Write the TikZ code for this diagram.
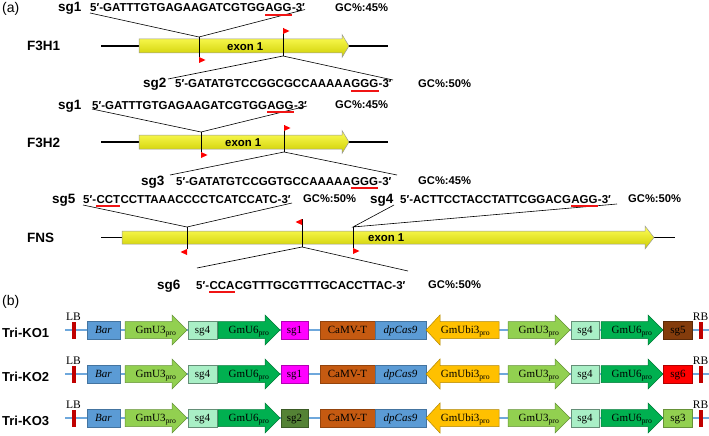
\documentclass[tikz,border=0pt]{standalone}
\usepackage{fontspec}
\setmainfont{Liberation Serif}
\setsansfont{Liberation Sans}
\usetikzlibrary{calc}
\definecolor{ulred}{RGB}{240,20,20}
\definecolor{barblue}{HTML}{5B9BD5}
\definecolor{lgreen}{HTML}{92D050}
\definecolor{mint}{HTML}{A9EFC6}
\definecolor{dgreen}{HTML}{00B050}
\definecolor{magent}{HTML}{FF00FF}
\definecolor{camv}{HTML}{C55A11}
\definecolor{ubi}{HTML}{FFC000}
\definecolor{sgfive}{HTML}{843C0C}
\definecolor{sgsix}{HTML}{FF0000}
\definecolor{sgtwo}{HTML}{548235}
\definecolor{lbred}{HTML}{C00000}
\definecolor{lineblue}{HTML}{6FA8DC}
\definecolor{exontop}{RGB}{255,255,90}
\definecolor{exonbot}{RGB}{205,205,0}
\tikzset{
  seqtxt/.style={font=\sffamily\bfseries\fontsize{11.5}{12}\selectfont, anchor=base west, inner sep=0pt},
  ulpath/.style={fill=ulred, draw=none},
  sglab/.style={font=\sffamily\bfseries\fontsize{13.5}{14}\selectfont, anchor=base west, inner sep=0pt},
  gctxt/.style={font=\sffamily\bfseries\fontsize{11.2}{12}\selectfont, anchor=base west, inner sep=0pt},
  genelab/.style={font=\sffamily\bfseries\fontsize{13.5}{14}\selectfont, anchor=base west, inner sep=0pt},
  exonlab/.style={font=\sffamily\bfseries\fontsize{11.4}{12}\selectfont, anchor=base west, inner sep=0pt},
  panel/.style={font=\sffamily\fontsize{14}{15}\selectfont, anchor=base west, inner sep=0pt},
  thinl/.style={line width=0.6pt},
  cutl/.style={line width=0.8pt},
  backbone/.style={line width=1.4pt},
  exon/.style={draw=black!40, line width=0.5pt, top color=exontop, middle color=yellow, bottom color=exonbot},
  bbline/.style={draw=lineblue, line width=1.6pt},
  gbox/.style={minimum height=18pt, inner sep=0pt, text height=7.5pt, text depth=0pt, font=\fontsize{11}{12}\selectfont, line width=0.6pt},
  atxt/.style={inner sep=0pt, text height=7.5pt, text depth=0pt, font=\fontsize{11}{12}\selectfont},
  lbtxt/.style={anchor=base, inner sep=0pt, font=\fontsize{11.5}{12}\selectfont},
  kolab/.style={font=\sffamily\bfseries\fontsize{13}{14}\selectfont, anchor=base west, inner sep=0pt},
}
% sequence with red-underlined part: name, position, before, underlined, after
\newcommand\seqline[5]{%
  \node[seqtxt] (#1p) at #2 {#3};
  \node[seqtxt] (#1m) at (#1p.base east) {#4};
  \node[seqtxt] (#1s) at (#1m.base east) {#5};
  \fill[ulpath] ([yshift=-1.9pt]#1m.base west) rectangle ([yshift=-3.7pt]#1m.base east);}
% right arrow: xstart, headback, tip, y, colour, name, text
\newcommand\rarr[7]{%
  \filldraw[fill=#5, draw=#5!70!black, line width=0.5pt] (#1,#4-8.5) -- (#2,#4-8.5) -- (#2,#4-15) -- (#3,#4) -- (#2,#4+15) -- (#2,#4+8.5) -- (#1,#4+8.5) -- cycle;
  \node[atxt] (#6) at ({(#1+#3)/2},#4) {#7};}
% left arrow: tip, headback, xend, y, colour, name, text
\newcommand\larr[7]{%
  \filldraw[fill=#5, draw=#5!70!black, line width=0.5pt] (#3,#4-8.5) -- (#2,#4-8.5) -- (#2,#4-15) -- (#1,#4) -- (#2,#4+15) -- (#2,#4+8.5) -- (#3,#4+8.5) -- cycle;
  \node[atxt] (#6) at ({(#1+#3)/2+3},#4) {#7};}
% construct row: y, prefix, label, colour A, text A, colour B, text B
\newcommand\construct[7]{%
  \draw[bbline] (65,#1) -- (709,#1);
  \node[kolab] (#2lab) at (2,#1+7) {#3};
  \node[fill=lbred, minimum width=4pt, minimum height=17pt, inner sep=0pt] (#2lb) at (74,#1) {};
  \node[lbtxt] (#2lbt) at (73.5,#1-10) {LB};
  \node[gbox, fill=barblue, draw=barblue!75!black, minimum width=33pt] (#2bar) at (103.5,#1) {\textit{Bar}};
  \rarr{125}{172}{187}{#1}{lgreen}{#2uthree}{GmU3\textsubscript{pro}}
  \node[gbox, fill=mint, draw=mint!60!black, minimum width=29pt] (#2sgf) at (202.5,#1) {sg4};
  \rarr{218}{265}{280}{#1}{dgreen}{#2usix}{GmU6\textsubscript{pro}}
  \node[gbox, fill=#4, draw=#4!70!black, minimum width=27pt] (#2sga) at (294.5,#1) {#5};
  \node[gbox, fill=camv, draw=camv!75!black, minimum width=55pt] (#2camv) at (347.5,#1) {CaMV-T};
  \node[gbox, fill=barblue, draw=barblue!75!black, minimum width=51pt] (#2cas) at (400.5,#1) {\textit{dpCas9}};
  \larr{426}{440}{499}{#1}{ubi}{#2ubi}{GmUbi3\textsubscript{pro}}
  \rarr{508}{555}{570}{#1}{lgreen}{#2uthreeb}{GmU3\textsubscript{pro}}
  \node[gbox, fill=mint, draw=mint!60!black, minimum width=28pt] (#2sgfb) at (585,#1) {sg4};
  \rarr{601}{648}{663}{#1}{dgreen}{#2usixb}{GmU6\textsubscript{pro}}
  \node[gbox, fill=#6, draw=#6!70!black, minimum width=29pt] (#2sgb) at (678,#1) {#7};
  \node[fill=lbred, minimum width=4pt, minimum height=17pt, inner sep=0pt] (#2rb) at (701,#1) {};
  \node[lbtxt] (#2rbt) at (700.5,#1-10) {RB};
}
\begin{document}
\begin{tikzpicture}[x=1pt,y=-1pt]
\useasboundingbox (0,0) rectangle (709,436);
\fill[white] (0,0) rectangle (709,436);

% ---------------- (a) ----------------
\node[panel] (pa) at (2,13) {(a)};

% ===== F3H1: backbone, exon, cut lines =====
\coordinate (bb1L) at (101,46); \coordinate (bb1R) at (388,46);
\draw[backbone] (bb1L) -- (bb1R);
\path[exon] (139,39) -- (342,39) -- (342,34.5) -- (349,46) -- (342,57.5) -- (342,53) -- (139,53) -- cycle;
\coordinate (a1L) at (90,13); \coordinate (a1R) at (305,9.5);
\coordinate (a1T) at (199,37); \coordinate (a1B) at (199,57);
\draw[thinl] (a1L) -- (a1T) -- (a1R);
\draw[cutl] (a1T) -- (a1B);
\fill[red] (a1B) -- ++(6.5,3) -- ++(-6.5,3) -- cycle;
\coordinate (b1T) at (283,28); \coordinate (b1B) at (283,56);
\coordinate (b1L) at (168,79); \coordinate (b1R) at (393,80);
\draw[cutl] (b1T) -- (b1B);
\fill[red] (b1T) -- ++(6.5,3) -- ++(-6.5,3) -- cycle;
\draw[thinl] (b1L) -- (b1B) -- (b1R);

% ===== F3H2 =====
\coordinate (bb2L) at (101,142); \coordinate (bb2R) at (388,142);
\draw[backbone] (bb2L) -- (bb2R);
\path[exon] (139,135) -- (342,135) -- (342,130.5) -- (349,142) -- (342,153.5) -- (342,149) -- (139,149) -- cycle;
\coordinate (a2L) at (92,109); \coordinate (a2R) at (307,106);
\coordinate (a2T) at (201,132); \coordinate (a2B) at (201,152);
\draw[thinl] (a2L) -- (a2T) -- (a2R);
\draw[cutl] (a2T) -- (a2B);
\fill[red] (a2B) -- ++(6.5,3) -- ++(-6.5,3) -- cycle;
\coordinate (b2T) at (284,125); \coordinate (b2B) at (284,152);
\coordinate (b2L) at (170,175); \coordinate (b2R) at (397,175);
\draw[cutl] (b2T) -- (b2B);
\fill[red] (b2T) -- ++(6.5,3) -- ++(-6.5,3) -- cycle;
\draw[thinl] (b2L) -- (b2B) -- (b2R);

% ===== FNS =====
\coordinate (bb3L) at (101,237.5); \coordinate (bb3M) at (122,237.5);
\coordinate (bb3N) at (654,237.5); \coordinate (bb3R) at (675,237.5);
\draw[backbone] (bb3L) -- (bb3M) (bb3N) -- (bb3R);
\path[exon] (122,231) -- (645,231) -- (645,226) -- (654,237.5) -- (645,249) -- (645,244) -- (122,244) -- cycle;
% sg5 cut
\coordinate (c5L) at (83,205); \coordinate (c5R) at (292,203);
\coordinate (c5T) at (187,227); \coordinate (c5B) at (187,249);
\draw[thinl] (c5L) -- (c5T) -- (c5R);
\draw[cutl] (c5T) -- (c5B);
\fill[red] (c5B) -- ++(-6.5,3) -- ++(6.5,3) -- cycle;
% sg6 cut
\coordinate (c6T) at (302,219); \coordinate (c6B) at (302,247);
\coordinate (c6L) at (197,268); \coordinate (c6R) at (408,271);
\draw[cutl] (c6T) -- (c6B);
\fill[red] (c6T) -- ++(-6.5,3) -- ++(6.5,3) -- cycle;
\draw[thinl] (c6L) -- (c6B) -- (c6R);
% sg4 cut
\coordinate (c4T) at (353,227); \coordinate (c4B) at (353,248);
\coordinate (c4L) at (394,205); \coordinate (c4R) at (617,204);
\draw[thinl] (c4L) -- (c4T) -- (c4R);
\draw[cutl] (c4T) -- (c4B);
\fill[red] (c4B) -- ++(6.5,3) -- ++(-6.5,3) -- cycle;

% ===== texts (drawn on top) =====
\node[genelab] (g1) at (27,51) {F3H1};
\node[exonlab] (e1) at (227,50.5) {exon 1};
\node[sglab] (s1a) at (58,12) {sg1};
\seqline{q1a}{(90,12)}{5′-GATTTGTGAGAAGATCGTGG}{AGG}{-3′}
\node[gctxt] (gc1a) at (335,11.5) {GC\%:45\%};
\node[sglab] (s1b) at (143,88) {sg2};
\seqline{q1b}{(175,88)}{5′-GATATGTCCGGCGCCAAAAA}{GGG}{-3′}
\node[gctxt] (gc1b) at (418,88) {GC\%:50\%};

\node[genelab] (g2) at (27,147) {F3H2};
\node[exonlab] (e2) at (225,146.5) {exon 1};
\node[sglab] (s2a) at (58,109) {sg1};
\seqline{q2a}{(92,109)}{5′-GATTTGTGAGAAGATCGTGG}{AGG}{-3′}
\node[gctxt] (gc2a) at (335,108.5) {GC\%:45\%};
\node[sglab] (s2b) at (141,185) {sg3};
\seqline{q2b}{(176,185)}{5′-GATATGTCCGGTGCCAAAAA}{GGG}{-3′}
\node[gctxt] (gc2b) at (418,184.5) {GC\%:45\%};

\node[genelab] (g3) at (27,242) {FNS};
\node[exonlab] (e3) at (368,241.5) {exon 1};
\node[sglab] (s3a) at (52,203) {sg5};
\seqline{q3a}{(83,203)}{5′-}{CCT}{CCTTAAACCCCTCATCCATC-3′}
\node[gctxt] (gc3a) at (303,202.5) {GC\%:50\%};
\node[sglab] (s3c) at (370,203) {sg4};
\seqline{q3c}{(400,203)}{5′-ACTTCCTACCTATTCGGACG}{AGG}{-3′}
\node[gctxt] (gc3c) at (628,202.5) {GC\%:50\%};
\node[sglab] (s3b) at (157,289) {sg6};
\seqline{q3b}{(196,289)}{5′-}{CCA}{CGTTTGCGTTTGCACCTTAC-3′}
\node[gctxt] (gc3b) at (428,288.5) {GC\%:50\%};

% ---------------- (b) ----------------
\node[panel] (pb) at (2,305) {(b)};
\construct{330}{ko1}{Tri-KO1}{magent}{sg1}{sgfive}{sg5}
\construct{374}{ko2}{Tri-KO2}{magent}{sg1}{sgsix}{sg6}
\construct{418}{ko3}{Tri-KO3}{sgtwo}{sg2}{lgreen}{sg3}
\end{tikzpicture}
\end{document}
